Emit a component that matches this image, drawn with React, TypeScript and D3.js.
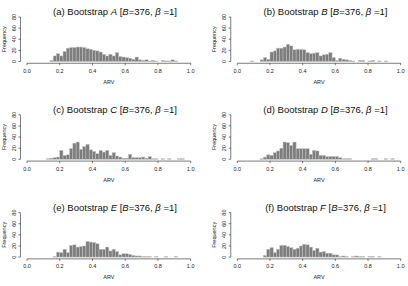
import React from 'react';
import * as d3 from 'd3';

// bin counts, bin width 0.02 from 0 to 1 (50 bins)
const countsA = [0,0,0,0,0,0,0,2,10,14, 10,18,24,25,25,26,26,25,23,22, 20,19,17,13,10,13,10,16,9,8, 7,6,4,8,3,2,3,1,2,1, 0,2,1,1,3,1,0,0,0,0];
const countsB = [0,0,0,0,1,0,0,3,7,4, 17,19,24,24,26,31,28,21,22,22, 21,16,14,15,16,10,12,13,16,7, 2,6,4,3,2,1,0,2,2,0, 1,2,0,1,0,1,0,0,0,0];
const countsC = [0,0,0,0,0,0,1,2,3,4, 16,7,8,19,29,31,18,23,27,17, 14,10,16,13,16,7,12,6,4,2, 2,9,3,3,3,4,2,5,1,1, 0,1,0,1,0,0,1,1,0,0];
const countsD = [0,0,0,0,0,0,0,1,4,8, 7,12,15,20,31,30,25,31,19,19, 19,19,9,16,15,7,7,5,5,5, 5,3,1,1,1,0,0,0,0,0, 0,1,1,0,0,1,0,1,0,0];
const countsE = [0,0,0,0,0,0,0,0,1,9, 8,14,8,21,22,18,19,20,28,27, 26,24,14,14,18,11,14,10,4,6, 6,5,3,2,2,1,1,1,0,1, 0,0,1,0,0,1,0,0,0,0];
const countsF = [0,0,0,0,0,0,0,0,3,14, 17,8,14,21,21,19,17,14,16,20, 23,22,18,12,16,9,10,7,7,4, 4,1,2,1,0,1,2,1,1,0, 1,1,0,1,0,0,0,0,0,0];

const panelTags = ['a', 'b', 'c', 'd', 'e', 'f'];
const panelNames = ['A', 'B', 'C', 'D', 'E', 'F'];
const panelCounts = [countsA, countsB, countsC, countsD, countsE, countsF];
const xTicks = [0, 0.2, 0.4, 0.6, 0.8, 1.0];
const yTicks = [0, 20, 40, 60, 80];
const binWidth = 0.02;

const font = 'Liberation Sans, Arial, Helvetica, sans-serif';

const Panel = ({ idx }: { idx: number }) => {
  const col = idx % 2, row = Math.floor(idx / 2);
  const left = col === 0 ? 27 : 237.3;
  const right = col === 0 ? 190.7 : 400.7;
  const top = 17 + row * 97.8;
  const bottom = 61.5 + row * 97.8;

  const x = d3.scaleLinear().domain([0, 1]).range([left, right]);
  const y = d3.scaleLinear().domain([0, 80]).range([bottom, top]);
  const axisX = x(-0.04);
  const axisY = y(-3.2);
  const counts = panelCounts[idx];
  const titleX = col === 0 ? 115 : 325.5;

  return (
    <g fontFamily={font}>
      <text x={titleX} y={top - 2} fontSize={9.5} textAnchor="middle" fill="#111">
        ({panelTags[idx]}) Bootstrap <tspan fontStyle="italic">{panelNames[idx]}</tspan> [
        <tspan fontStyle="italic">B</tspan>=376, <tspan fontStyle="italic">β</tspan> =1]
      </text>
      {counts.map((c, i) => c > 0 && (
        <rect key={i} x={x(i * binWidth)} y={y(c)}
          width={x(binWidth) - x(0)} height={y(0) - y(c)}
          fill="#7d7d7d" stroke="#c4c4c4" strokeWidth={0.5} />
      ))}
      {/* x axis */}
      <line x1={x(0)} x2={x(1)} y1={axisY} y2={axisY} stroke="#222" strokeWidth={0.6} />
      {xTicks.map(t => (
        <g key={t}>
          <line x1={x(t)} x2={x(t)} y1={axisY} y2={axisY + 2} stroke="#222" strokeWidth={0.6} />
          <text x={x(t)} y={axisY + 9.5} fontSize={5.5} textAnchor="middle" fill="#222">{t.toFixed(1)}</text>
        </g>
      ))}
      <text x={(x(0) + x(1)) / 2} y={axisY + 20.5} fontSize={5.5} textAnchor="middle" fill="#222">ARV</text>
      {/* y axis */}
      <line x1={axisX} x2={axisX} y1={y(0)} y2={y(80)} stroke="#222" strokeWidth={0.6} />
      {yTicks.map(t => (
        <g key={t}>
          <line x1={axisX - 2} x2={axisX} y1={y(t)} y2={y(t)} stroke="#222" strokeWidth={0.6} />
          <text transform={`translate(${axisX - 4.5},${y(t)}) rotate(-90)`} fontSize={5.5}
            textAnchor="middle" fill="#222">{t}</text>
        </g>
      ))}
      <text transform={`translate(${axisX - 14.5},${(y(0) + y(80)) / 2}) rotate(-90)`} fontSize={5.5}
        textAnchor="middle" fill="#222">Frequency</text>
    </g>
  );
};

export default function App() {
  return (
    <svg width={408} height={286} style={{ position: 'absolute', left: 0, top: 0, background: '#fff' }}>
      {panelTags.map((_, i) => <Panel key={i} idx={i} />)}
    </svg>
  );
}
